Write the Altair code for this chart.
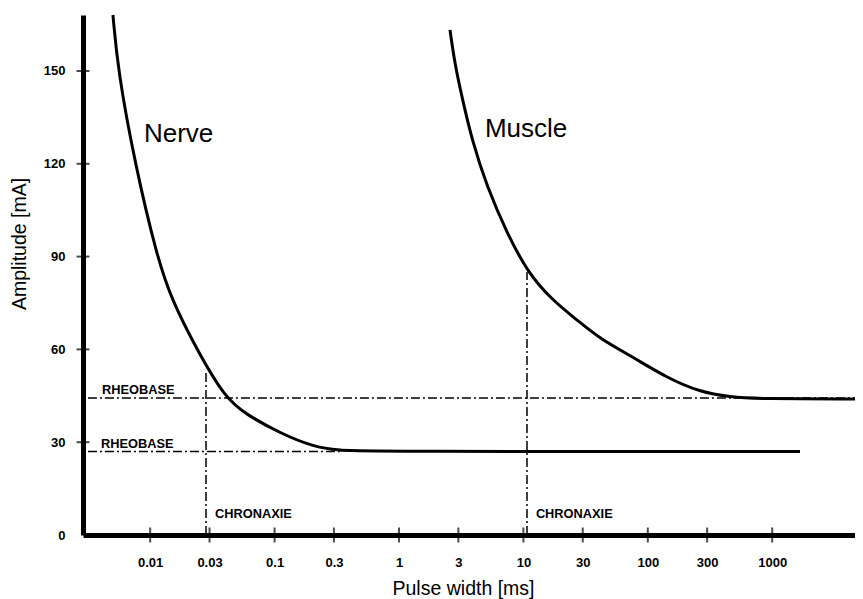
import altair as alt
import pandas as pd

# ---- data ----
nerve_x = [0.00502, 0.00551, 0.00755, 0.01135, 0.0149, 0.0236, 0.0399, 0.060, 0.110, 0.204, 0.336, 0.553, 1672]
nerve_y = [168.1, 150, 120, 89.9, 76, 60.1, 44.3, 38.8, 33, 28.5, 27.3, 27.0, 27.0]

muscle_x = [2.57, 2.82, 3.25, 3.86, 5.10, 7.38, 10.9, 17.0, 27.0, 41.3, 76.1, 142.6, 263, 458, 798, 4630]
muscle_y = [163.3, 151.9, 140.6, 127.7, 112.5, 97.6, 84.7, 76.0, 69.5, 63.4, 57.5, 50.8, 46.2, 44.6, 44.0, 44.0]

# reference (dash-dot) lines: rheobase (horizontal) and chronaxie (vertical)
ref_seg = ["rheo_muscle", "rheo_muscle", "rheo_nerve", "rheo_nerve",
           "chron_nerve", "chron_nerve", "chron_muscle", "chron_muscle"]
ref_x = [0.00316, 4630, 0.00316, 0.336, 0.0281, 0.0281, 10.69, 10.69]
ref_y = [44.3, 44.3, 27.0, 27.0, 0, 53.3, 0, 85.0]

# small annotation labels
small_text = ["RHEOBASE", "RHEOBASE", "CHRONAXIE", "CHRONAXIE"]
small_x = [0.0041, 0.00402, 0.0332, 12.6]
small_y = [45.6, 28.1, 5.5, 5.5]

big_text = ["Nerve", "Muscle"]
big_x = [0.00891, 4.91]
big_y = [127.1, 128.7]

x_ticks = [0.01, 0.03, 0.1, 0.3, 1, 3, 10, 30, 100, 300, 1000]
y_ticks = [0, 30, 60, 90, 120, 150]

x_domain = [0.002884, 4630]
y_domain = [0, 168.1]

FONT = "Liberation Sans"

xscale = alt.Scale(type="log", domain=x_domain, nice=False)
yscale = alt.Scale(domain=y_domain, nice=False, zero=False)

x_axis = alt.Axis(values=x_ticks, format="~g", ticks=False, tickSize=0, grid=False,
                  labelFont=FONT, labelFontSize=13, labelFontWeight="bold", labelColor="black",
                  labelPadding=21, labelOverlap=False, labelFlush=False,
                  domainWidth=5, domainColor="black",
                  title="Pulse width [ms]", titleFont=FONT, titleFontSize=19.5,
                  titleFontWeight="normal", titleColor="black",
                  titleX=380, titleY=59, titleAlign="center", titleBaseline="alphabetic")
y_axis = alt.Axis(values=y_ticks, ticks=False, tickSize=0, grid=False,
                  labelFont=FONT, labelFontSize=13, labelFontWeight="bold", labelColor="black",
                  labelPadding=18, labelOverlap=False, labelFlush=False,
                  domainWidth=5, domainColor="black",
                  title="Amplitude [mA]", titleFont=FONT, titleFontSize=19.5,
                  titleFontWeight="normal", titleColor="black",
                  titleX=-58, titleY=228.5, titleAlign="center", titleBaseline="alphabetic")

X = alt.X("x:Q", scale=xscale, axis=x_axis)
Y = alt.Y("y:Q", scale=yscale, axis=y_axis)

curves = pd.DataFrame({
    "x": nerve_x + muscle_x,
    "y": nerve_y + muscle_y,
    "name": ["Nerve"] * len(nerve_x) + ["Muscle"] * len(muscle_x),
})
refs = pd.DataFrame({"x": ref_x, "y": ref_y, "seg": ref_seg})
small = pd.DataFrame({"x": small_x, "y": small_y, "t": small_text})
big = pd.DataFrame({"x": big_x, "y": big_y, "t": big_text})
ytk = pd.DataFrame({"x": [x_domain[0]] * (len(y_ticks) - 1), "y": y_ticks[1:]})
xtk = pd.DataFrame({"x": x_ticks, "y": [0] * len(x_ticks)})

curve_layer = alt.Chart(curves).mark_line(
    color="black", strokeWidth=3, interpolate="basis"
).encode(x=X, y=Y, detail="name:N")

ref_layer = alt.Chart(refs).mark_line(
    color="black", strokeWidth=1.5, strokeDash=[9, 3, 2, 3]
).encode(x=X, y=Y, detail="seg:N")

small_layer = alt.Chart(small).mark_text(
    font=FONT, fontSize=12.8, fontWeight="bold", align="left", baseline="alphabetic", color="black"
).encode(x=X, y=Y, text="t:N")

big_layer = alt.Chart(big).mark_text(
    font=FONT, fontSize=26, align="left", baseline="alphabetic", color="black"
).encode(x=X, y=Y, text="t:N")

ytick_layer = alt.Chart(ytk).mark_tick(
    orient="horizontal", size=13, thickness=2, color="black"
).encode(x=X, y=Y)

xtick_layer = alt.Chart(xtk).mark_tick(
    orient="vertical", size=15, thickness=2, color="black"
).encode(x=X, y=Y)

chart = alt.layer(
    ref_layer, curve_layer, small_layer, big_layer, ytick_layer, xtick_layer
).properties(
    width=772, height=520,
    autosize=alt.AutoSizeParams(type="none"),
    padding={"left": 75, "top": 7, "right": 0, "bottom": 66},
    background="white",
).configure_view(stroke=None)

chart.save("out.html", embed_options={"renderer": "svg", "actions": False})
